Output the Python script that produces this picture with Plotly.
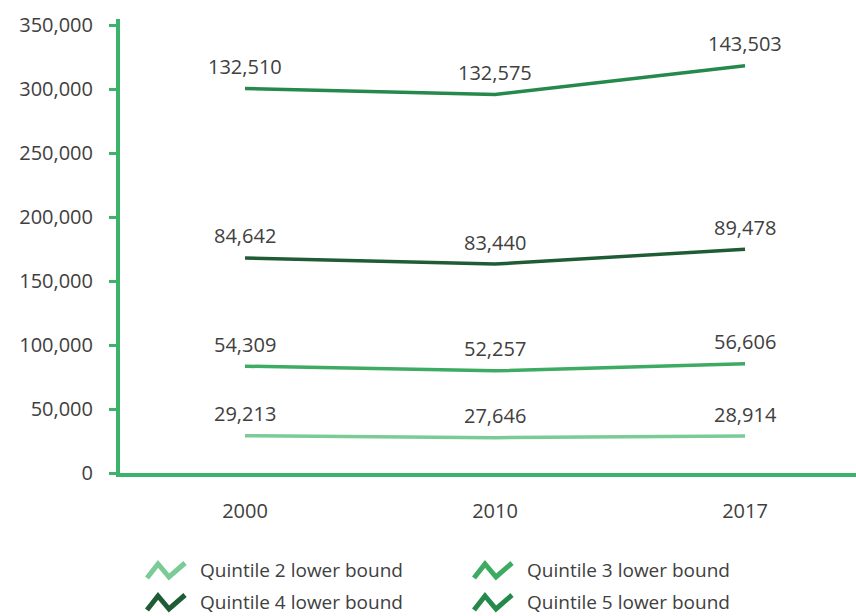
import numpy as np
import plotly.graph_objects as go

years = ["2000", "2010", "2017"]
q2_lower = [29213, 27646, 28914]
q3_lower = [54309, 52257, 56606]
q4_lower = [84642, 83440, 89478]
q5_lower = [132510, 132575, 143503]

series_names = [
    "Quintile 2 lower bound",
    "Quintile 3 lower bound",
    "Quintile 4 lower bound",
    "Quintile 5 lower bound",
]
series_values = [q2_lower, q3_lower, q4_lower, q5_lower]
series_colors = ["#7acb95", "#3dab62", "#1f5c35", "#24894b"]

axis_green = "#3db26a"
text_grey = "#404040"
font_family = "Open Sans, Lato, sans-serif"

W, H = 856, 616
m_l, m_r, m_t, m_b = 120, 0, 19, 143
plot_w = W - m_l - m_r
plot_h = H - m_t - m_b

fig = go.Figure()

# stacked lines (no fill), each labelled with its own value
cumulative = np.cumsum(np.array(series_values), axis=0)
for name, vals, color in zip(series_names, series_values, series_colors):
    fig.add_trace(go.Scatter(
        x=years, y=vals, name=name, mode="lines",
        stackgroup="one", fill="none",
        line=dict(color=color, width=3.5),
        hoverinfo="skip", showlegend=False,
    ))

for vals, tops in zip(series_values, cumulative):
    for i, (v, top) in enumerate(zip(vals, tops)):
        fig.add_annotation(
            x=i, y=float(top), text=f"{v:,}", showarrow=False,
            yshift=22, font=dict(size=20, color=text_grey, family=font_family),
        )


def px_to_paper(px, py):
    return (px - m_l) / plot_w, (H - m_b - py) / plot_h


# legend: zigzag icons with labels, two columns
legend_cells = [(147, 570), (474, 570), (147, 602), (474, 602)]
zig = [(0, 8), (11, -6), (22, 7), (38, -7)]
for (cx, cy), name, color in zip(legend_cells, series_names, series_colors):
    pts = [px_to_paper(cx + dx, cy + dy) for dx, dy in zig]
    path = "M " + " L ".join(f"{x:.5f},{y:.5f}" for x, y in pts)
    fig.add_shape(type="path", path=path, xref="paper", yref="paper",
                  line=dict(color=color, width=5))
    tx, ty = px_to_paper(cx + 51, cy)
    fig.add_annotation(
        x=tx, y=ty, xref="paper", yref="paper", text=name, showarrow=False,
        xanchor="left", yanchor="middle",
        font=dict(size=19, color=text_grey, family=font_family),
    )

fig.update_layout(
    width=W, height=H,
    margin=dict(l=m_l, r=m_r, t=m_t, b=m_b),
    plot_bgcolor="white", paper_bgcolor="white",
    showlegend=False,
    font=dict(family=font_family, size=20, color=text_grey),
)
fig.update_xaxes(
    type="category", range=[-0.5, 2.444],
    showline=True, linecolor=axis_green, linewidth=4,
    showgrid=False, zeroline=False, ticks="",
    ticklabelstandoff=17,
    tickfont=dict(size=20, color=text_grey),
)
fig.update_yaxes(
    range=[0, 355000], tickvals=[0, 50000, 100000, 150000, 200000, 250000, 300000, 350000],
    tickformat=",d",
    showline=True, linecolor=axis_green, linewidth=4,
    showgrid=False, zeroline=False,
    ticks="outside", ticklen=7, tickwidth=3, tickcolor=axis_green,
    ticklabelstandoff=12,
    tickfont=dict(size=20, color=text_grey),
)

fig.write_html("out.html")
